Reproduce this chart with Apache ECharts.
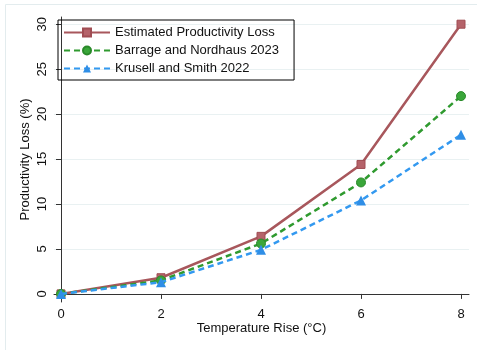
<!DOCTYPE html>
<html>
<head>
<meta charset="utf-8">
<script src="https://cdn.jsdelivr.net/npm/echarts@6/dist/echarts.min.js"></script>
<style>
  html, body { margin: 0; padding: 0; background: #fff; }
  #chart { width: 477px; height: 350px; }
</style>
</head>
<body>
<div id="chart"></div>
<script>
// temperature rise (°C)
const temps = [0, 2, 4, 6, 8]
const estimatedLoss = [0, 1.8, 6.4, 14.4, 30.0]
const barrageNordhaus = [0, 1.5, 5.6, 12.4, 22.0]
const krusellSmith = [0, 1.3, 4.9, 10.4, 17.7]
const xTicks = [0, 2, 4, 6, 8]
const yTicks = [0, 5, 10, 15, 20, 25, 30]

const font = 'Liberation Sans, Arial, sans-serif'
const chart = echarts.init(document.getElementById('chart'))

function pairs(vals) {
  return temps.map((t, i) => [t, vals[i]])
}

let options = {
  animation: false,
  textStyle: { fontFamily: font },
  graphic: [{
    type: 'rect',
    shape: { x: 5.5, y: 4.5, width: 490, height: 360 },
    style: { fill: 'none', stroke: '#e3ecee', lineWidth: 1 },
    silent: true
  }],
  grid: { left: 54, right: 8, top: 17, bottom: 48 },
  legend: {
    orient: 'vertical',
    left: 58,
    top: 20,
    padding: [5, 15, 4, 5],
    itemGap: 3,
    itemWidth: 46,
    itemHeight: 10,
    borderColor: '#000',
    borderWidth: 1,
    textStyle: { fontSize: 13, color: '#111', fontFamily: font, lineHeight: 15 },
    data: ['Estimated Productivity Loss', 'Barrage and Nordhaus 2023', 'Krusell and Smith 2022']
  },
  xAxis: {
    type: 'value',
    min: -0.14,
    max: 8.16,
    name: 'Temperature Rise (°C)',
    nameLocation: 'middle',
    nameGap: 20,
    nameMoveOverlap: false,
    nameTextStyle: { fontSize: 13, color: '#111' },
    axisLine: { show: true, lineStyle: { color: '#333', width: 1 } },
    axisTick: { show: true, length: 5, customValues: xTicks, lineStyle: { color: '#333' } },
    axisLabel: { customValues: xTicks, margin: 6, fontSize: 13, color: '#111' },
    splitLine: { show: false }
  },
  yAxis: {
    type: 'value',
    min: -0.9,
    max: 30.8,
    name: 'Productivity Loss (%)',
    nameLocation: 'middle',
    nameGap: 22,
    nameMoveOverlap: false,
    nameRotate: 90,
    nameTextStyle: { fontSize: 13, color: '#111' },
    axisLine: { show: true, lineStyle: { color: '#333', width: 1 } },
    axisTick: { show: true, length: 5, customValues: yTicks, lineStyle: { color: '#333' } },
    axisLabel: { customValues: yTicks, rotate: 90, margin: 5, fontSize: 13, color: '#111' },
    splitLine: { show: true, lineStyle: { color: '#e9f1f2', width: 1 } }
  },
  series: [{
    name: 'Estimated Productivity Loss',
    type: 'line',
    data: pairs(estimatedLoss),
    symbol: 'rect',
    symbolSize: 8,
    lineStyle: { color: '#a8575c', width: 2.5 },
    itemStyle: { color: '#b5636a', borderColor: '#a04d53', borderWidth: 1 },
    z: 3
  }, {
    name: 'Barrage and Nordhaus 2023',
    type: 'line',
    data: pairs(barrageNordhaus),
    symbol: 'circle',
    symbolSize: 9,
    lineStyle: { color: '#2f9a2f', width: 2.5, type: [6, 4] },
    itemStyle: { color: '#3aa63a', borderColor: '#2a8a2a', borderWidth: 1 },
    z: 4
  }, {
    name: 'Krusell and Smith 2022',
    type: 'line',
    data: pairs(krusellSmith),
    symbol: 'triangle',
    symbolSize: 10,
    lineStyle: { color: '#3399f0', width: 2.5, type: [6, 4] },
    itemStyle: { color: '#2f8ee6', borderColor: '#2f8ee6', borderWidth: 0 },
    z: 5
  }]
}
options && chart.setOption(options)
</script>
</body>
</html>
